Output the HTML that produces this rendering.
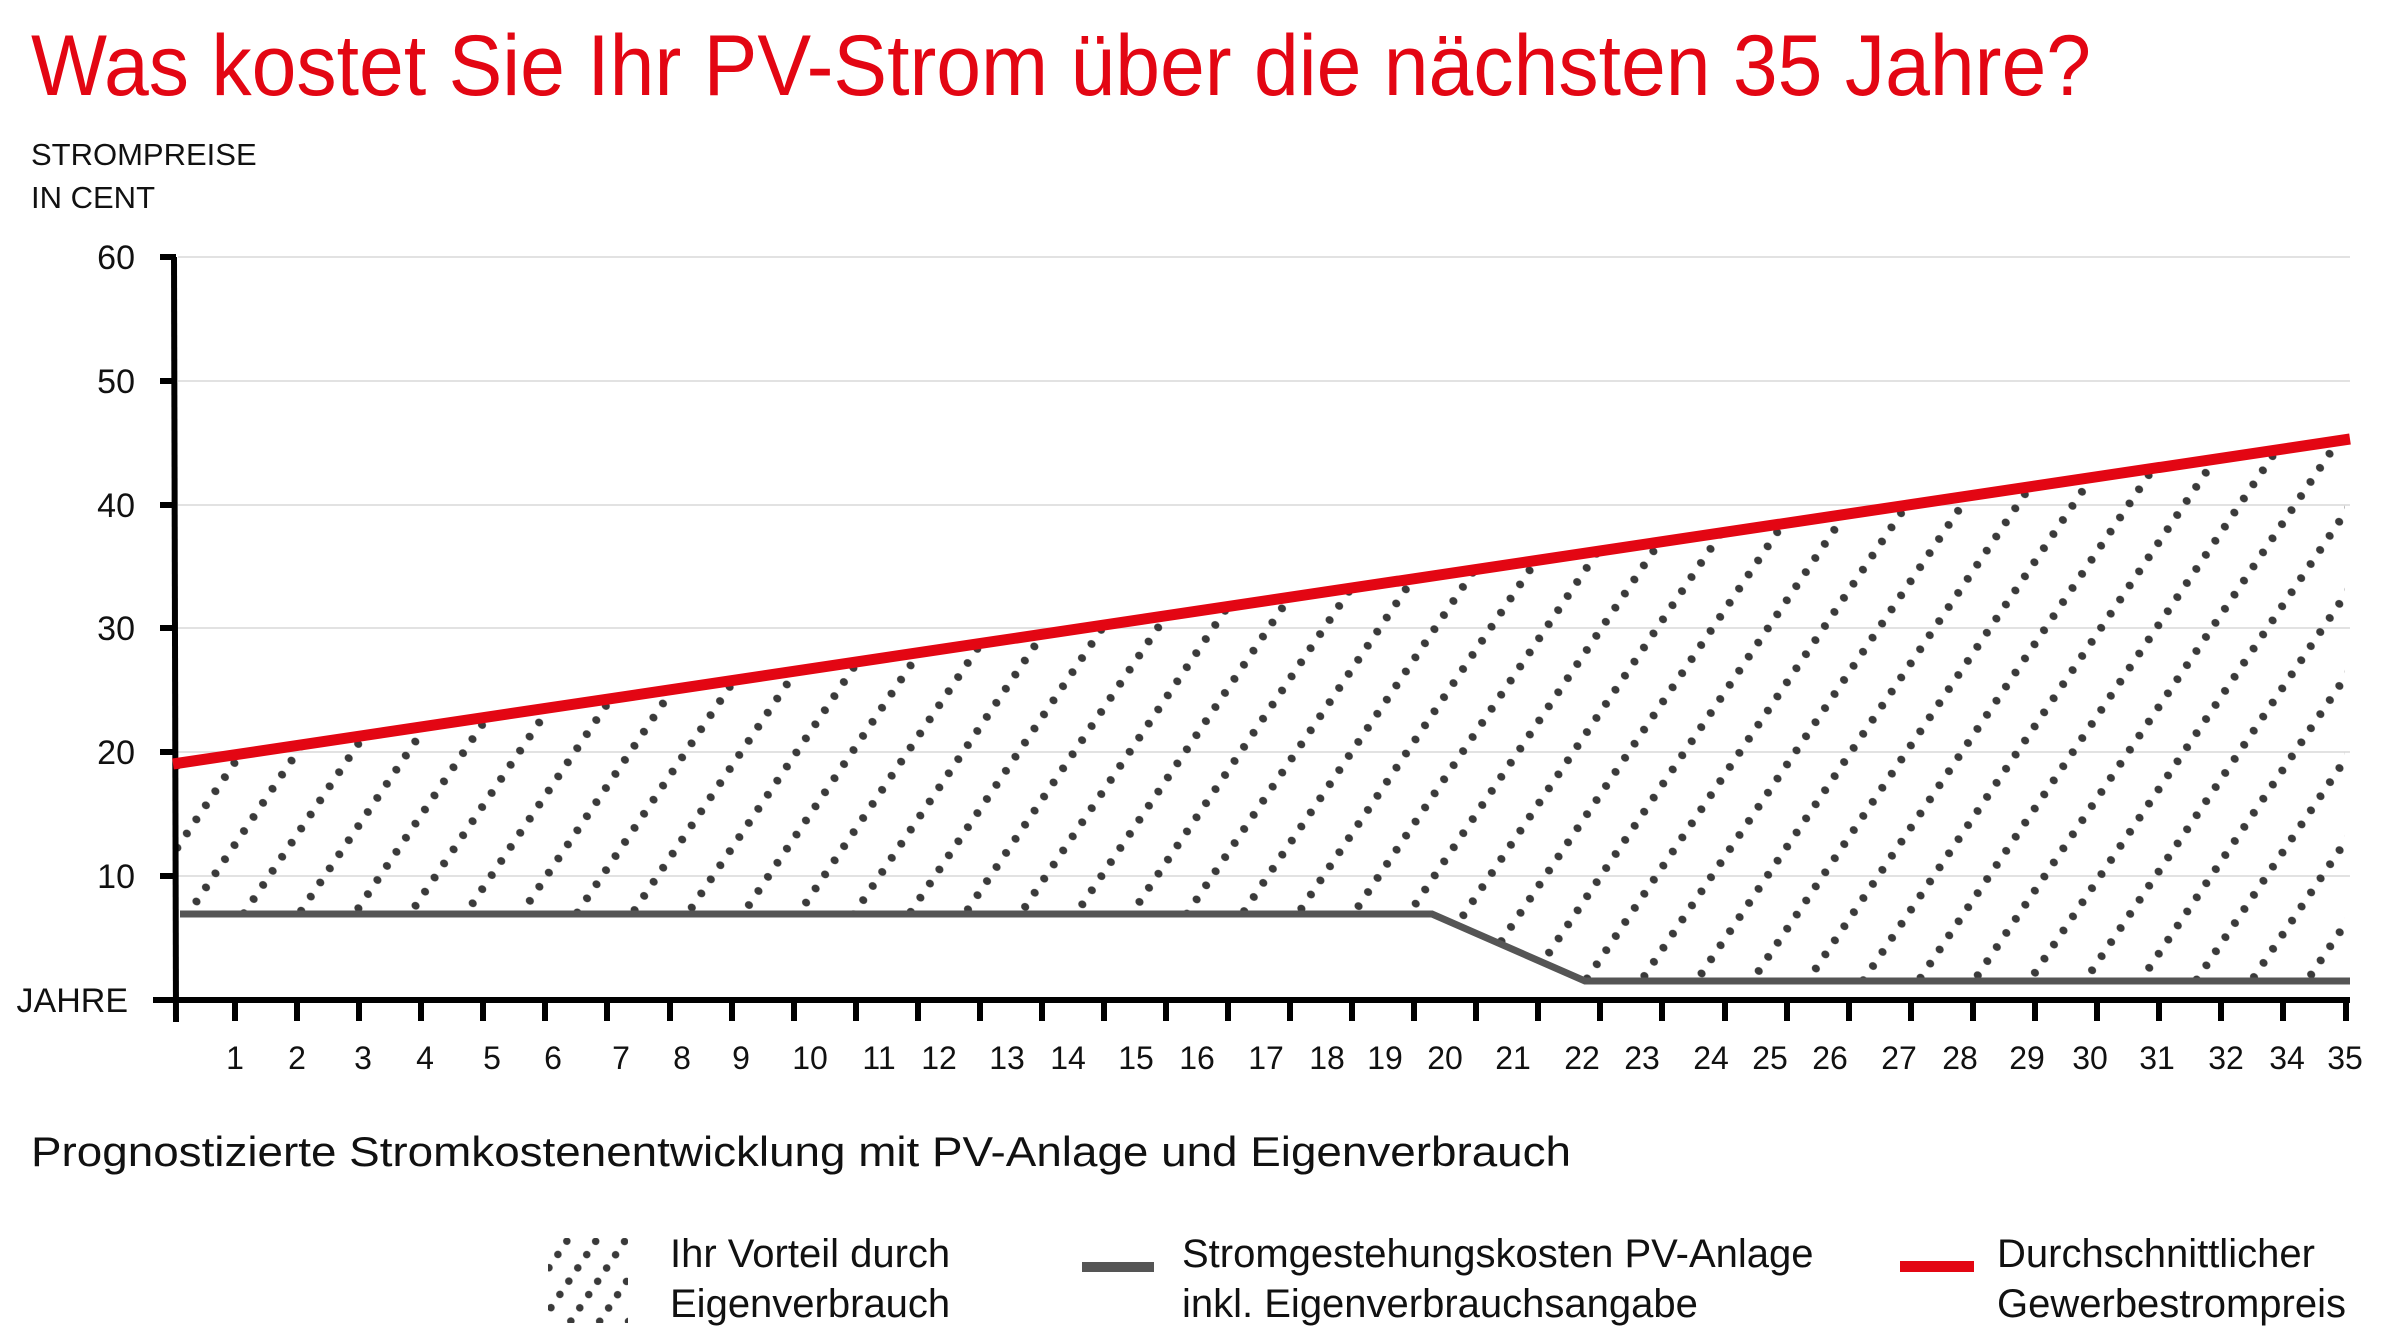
<!DOCTYPE html>
<html><head><meta charset="utf-8"><style>
html,body{margin:0;padding:0;background:#fff;}
svg{display:block;font-family:"Liberation Sans",sans-serif;}
</style></head><body>
<svg width="2397" height="1336" viewBox="0 0 2397 1336" xmlns="http://www.w3.org/2000/svg">
<defs>
<pattern id="dots" patternUnits="userSpaceOnUse" width="46" height="17" patternTransform="rotate(34)">
<ellipse cx="23" cy="8.5" rx="4.2" ry="3.8" fill="#3a3a3a"/>
</pattern>
<pattern id="dots2" patternUnits="userSpaceOnUse" width="24" height="16" patternTransform="rotate(34)">
<circle cx="12" cy="8" r="3.8" fill="#3a3a3a"/>
</pattern>
</defs>
<text x="31" y="95" font-size="86" fill="#e30613" textLength="2060" lengthAdjust="spacingAndGlyphs">Was kostet Sie Ihr PV-Strom über die nächsten 35 Jahre?</text>
<text x="31" y="165" font-size="31" fill="#111">STROMPREISE</text>
<text x="31" y="208" font-size="31" fill="#111">IN CENT</text>
<g stroke="#d8d8d8" stroke-width="1.5">
<line x1="178" y1="257" x2="2350" y2="257"/>
<line x1="178" y1="381" x2="2350" y2="381"/>
<line x1="178" y1="505" x2="2350" y2="505"/>
<line x1="178" y1="628" x2="2350" y2="628"/>
<line x1="178" y1="752" x2="2350" y2="752"/>
<line x1="178" y1="876" x2="2350" y2="876"/>
</g>
<polygon points="178,763 2345,440 2345,981 1585,981 1432,914 178,914" fill="url(#dots)"/>
<g font-size="34" fill="#111" text-anchor="end">
<text x="135" y="269">60</text>
<text x="135" y="393">50</text>
<text x="135" y="517">40</text>
<text x="135" y="640">30</text>
<text x="135" y="764">20</text>
<text x="135" y="888">10</text>
<text x="128" y="1012">JAHRE</text>
</g>
<g stroke="#000" stroke-width="6">
<line x1="160" y1="257" x2="176" y2="257"/>
<line x1="160" y1="381" x2="176" y2="381"/>
<line x1="160" y1="505" x2="176" y2="505"/>
<line x1="160" y1="628" x2="176" y2="628"/>
<line x1="160" y1="752" x2="176" y2="752"/>
<line x1="160" y1="876" x2="176" y2="876"/>
<line x1="174" y1="257" x2="176" y2="1022"/>
<line x1="153" y1="1000" x2="2350" y2="1000"/>
</g>
<polyline points="180,914 1432,914 1585,981 2350,981" fill="none" stroke="#555" stroke-width="7"/>
<line x1="173" y1="764" x2="2350" y2="439" stroke="#e30613" stroke-width="11"/>
<text x="31" y="1166" font-size="42" fill="#111" textLength="1540" lengthAdjust="spacingAndGlyphs">Prognostizierte Stromkostenentwicklung mit PV-Anlage und Eigenverbrauch</text>
<rect x="548" y="1238" width="80" height="85" fill="url(#dots2)"/>
<g font-size="40" fill="#111">
<text x="670" y="1267">Ihr Vorteil durch</text>
<text x="670" y="1317">Eigenverbrauch</text>
<text x="1182" y="1267">Stromgestehungskosten PV-Anlage</text>
<text x="1182" y="1317">inkl. Eigenverbrauchsangabe</text>
<text x="1997" y="1267">Durchschnittlicher</text>
<text x="1997" y="1317">Gewerbestrompreis</text>
</g>
<rect x="1082" y="1262" width="72" height="10" fill="#555"/>
<rect x="1900" y="1261" width="74" height="11" fill="#e30613"/>
<g stroke="#000" stroke-width="6">
<line x1="235" y1="1000" x2="235" y2="1021"/><line x1="297" y1="1000" x2="297" y2="1021"/><line x1="359" y1="1000" x2="359" y2="1021"/><line x1="421" y1="1000" x2="421" y2="1021"/><line x1="483" y1="1000" x2="483" y2="1021"/><line x1="545" y1="1000" x2="545" y2="1021"/><line x1="607" y1="1000" x2="607" y2="1021"/><line x1="670" y1="1000" x2="670" y2="1021"/><line x1="732" y1="1000" x2="732" y2="1021"/><line x1="794" y1="1000" x2="794" y2="1021"/><line x1="856" y1="1000" x2="856" y2="1021"/><line x1="918" y1="1000" x2="918" y2="1021"/><line x1="980" y1="1000" x2="980" y2="1021"/><line x1="1042" y1="1000" x2="1042" y2="1021"/><line x1="1104" y1="1000" x2="1104" y2="1021"/><line x1="1166" y1="1000" x2="1166" y2="1021"/><line x1="1228" y1="1000" x2="1228" y2="1021"/><line x1="1290" y1="1000" x2="1290" y2="1021"/><line x1="1352" y1="1000" x2="1352" y2="1021"/><line x1="1414" y1="1000" x2="1414" y2="1021"/><line x1="1476" y1="1000" x2="1476" y2="1021"/><line x1="1538" y1="1000" x2="1538" y2="1021"/><line x1="1600" y1="1000" x2="1600" y2="1021"/><line x1="1662" y1="1000" x2="1662" y2="1021"/><line x1="1725" y1="1000" x2="1725" y2="1021"/><line x1="1787" y1="1000" x2="1787" y2="1021"/><line x1="1849" y1="1000" x2="1849" y2="1021"/><line x1="1911" y1="1000" x2="1911" y2="1021"/><line x1="1973" y1="1000" x2="1973" y2="1021"/><line x1="2035" y1="1000" x2="2035" y2="1021"/><line x1="2097" y1="1000" x2="2097" y2="1021"/><line x1="2159" y1="1000" x2="2159" y2="1021"/><line x1="2221" y1="1000" x2="2221" y2="1021"/><line x1="2283" y1="1000" x2="2283" y2="1021"/><line x1="2346" y1="1000" x2="2346" y2="1021"/>
</g>
<g font-size="32" fill="#111" text-anchor="middle">
<text x="235" y="1069">1</text><text x="297" y="1069">2</text><text x="363" y="1069">3</text><text x="425" y="1069">4</text><text x="492" y="1069">5</text><text x="553" y="1069">6</text><text x="621" y="1069">7</text><text x="682" y="1069">8</text><text x="741" y="1069">9</text><text x="810" y="1069">10</text><text x="879" y="1069">11</text><text x="939" y="1069">12</text><text x="1007" y="1069">13</text><text x="1068" y="1069">14</text><text x="1136" y="1069">15</text><text x="1197" y="1069">16</text><text x="1266" y="1069">17</text><text x="1327" y="1069">18</text><text x="1385" y="1069">19</text><text x="1445" y="1069">20</text><text x="1513" y="1069">21</text><text x="1582" y="1069">22</text><text x="1642" y="1069">23</text><text x="1711" y="1069">24</text><text x="1770" y="1069">25</text><text x="1830" y="1069">26</text><text x="1899" y="1069">27</text><text x="1960" y="1069">28</text><text x="2027" y="1069">29</text><text x="2090" y="1069">30</text><text x="2157" y="1069">31</text><text x="2226" y="1069">32</text><text x="2287" y="1069">34</text><text x="2345" y="1069">35</text>
</g>
</svg>
</body></html>
